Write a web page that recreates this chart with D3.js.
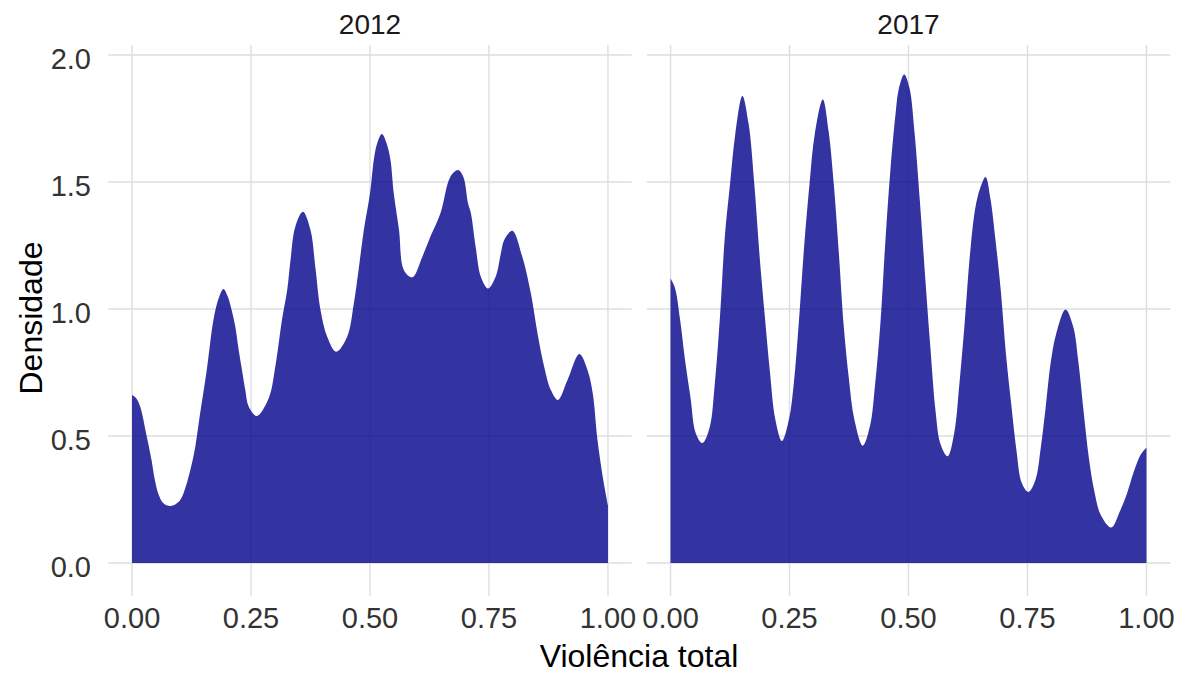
<!DOCTYPE html>
<html>
<head>
<meta charset="utf-8">
<script src="https://cdn.jsdelivr.net/npm/d3@7"></script>
<style>
  body { margin: 0; background: #fff; }
  text { font-family: "Liberation Sans", Arial, sans-serif; }
</style>
</head>
<body>
<div id="chart"></div>
<script>
// facets
var years = ["2012", "2017"];

// density curves (x = Violência total, y = Densidade)
var x2012 = [0.000, 0.009, 0.017, 0.031, 0.041, 0.048, 0.055, 0.066, 0.081, 0.098, 0.108, 0.129, 0.143, 0.157, 0.171, 0.182,
  0.192, 0.201, 0.210, 0.217, 0.224, 0.231, 0.238, 0.245, 0.262, 0.287, 0.301, 0.315, 0.326, 0.333, 0.343, 0.359,
  0.375, 0.385, 0.396, 0.410, 0.429, 0.452, 0.466, 0.476, 0.487, 0.500, 0.508, 0.515, 0.525, 0.535, 0.543, 0.550,
  0.561, 0.571, 0.589, 0.610, 0.627, 0.648, 0.669, 0.685, 0.696, 0.706, 0.712, 0.722, 0.733, 0.748, 0.764, 0.775,
  0.782, 0.799, 0.820, 0.838, 0.852, 0.866, 0.880, 0.895, 0.915, 0.940, 0.957, 0.968, 0.978, 0.989, 1.000];
var y2012 = [0.661, 0.648, 0.616, 0.497, 0.405, 0.327, 0.274, 0.235, 0.224, 0.241, 0.274, 0.419, 0.589, 0.760, 0.957, 1.042,
  1.079, 1.050, 0.990, 0.930, 0.840, 0.760, 0.681, 0.616, 0.579, 0.648, 0.773, 0.957, 1.075, 1.193, 1.324, 1.383,
  1.311, 1.167, 0.996, 0.891, 0.832, 0.891, 1.022, 1.154, 1.311, 1.455, 1.587, 1.652, 1.689, 1.652, 1.587, 1.455,
  1.311, 1.154, 1.125, 1.206, 1.285, 1.377, 1.521, 1.547, 1.521, 1.416, 1.377, 1.245, 1.127, 1.081, 1.127, 1.219,
  1.272, 1.308, 1.206, 1.062, 0.904, 0.773, 0.681, 0.642, 0.720, 0.823, 0.760, 0.668, 0.484, 0.340, 0.228];

var x2017 = [0.000, 0.009, 0.020, 0.031, 0.042, 0.053, 0.067, 0.082, 0.093, 0.104, 0.114, 0.125, 0.136, 0.151, 0.164, 0.176,
  0.187, 0.198, 0.209, 0.220, 0.234, 0.249, 0.259, 0.270, 0.281, 0.292, 0.303, 0.320, 0.332, 0.343, 0.354, 0.364,
  0.375, 0.386, 0.404, 0.419, 0.430, 0.441, 0.451, 0.462, 0.473, 0.480, 0.491, 0.502, 0.513, 0.524, 0.535, 0.546,
  0.557, 0.567, 0.582, 0.596, 0.607, 0.618, 0.629, 0.640, 0.651, 0.662, 0.672, 0.683, 0.694, 0.705, 0.716, 0.727,
  0.738, 0.752, 0.767, 0.778, 0.788, 0.799, 0.810, 0.830, 0.846, 0.857, 0.868, 0.879, 0.890, 0.904, 0.926, 0.944,
  0.959, 0.973, 0.988, 1.000];
var y2017 = [1.120, 1.085, 0.959, 0.791, 0.651, 0.511, 0.472, 0.532, 0.707, 0.973, 1.282, 1.492, 1.688, 1.839, 1.730, 1.492,
  1.211, 0.973, 0.749, 0.567, 0.480, 0.567, 0.707, 0.959, 1.254, 1.492, 1.688, 1.825, 1.702, 1.492, 1.211, 0.931,
  0.721, 0.567, 0.462, 0.539, 0.707, 0.945, 1.254, 1.548, 1.772, 1.870, 1.923, 1.870, 1.688, 1.422, 1.127, 0.847,
  0.595, 0.469, 0.420, 0.511, 0.707, 0.945, 1.211, 1.394, 1.478, 1.520, 1.436, 1.268, 1.071, 0.819, 0.623, 0.441,
  0.315, 0.280, 0.329, 0.455, 0.609, 0.791, 0.900, 0.998, 0.931, 0.791, 0.595, 0.413, 0.287, 0.189, 0.140, 0.203,
  0.273, 0.357, 0.427, 0.455];

var xTicks = [0, 0.25, 0.5, 0.75, 1];
var xTickLabels = ["0.00", "0.25", "0.50", "0.75", "1.00"];
var yTicks = [0, 0.5, 1, 1.5, 2];
var yTickLabels = ["0.0", "0.5", "1.0", "1.5", "2.0"];

var curves = [
  { year: years[0], x: x2012, y: y2012 },
  { year: years[1], x: x2017, y: y2017 }
];

var width = 1186, height = 674;
var panelTop = 45, panelBottom = 596;
var panelLeft = [108.25, 646.75];
var panelW = 523.5;

var svg = d3.select("#chart").append("svg")
    .attr("width", width)
    .attr("height", height);

// shared y scale
var y = d3.scaleLinear()
    .domain([0, 2])
    .range([563, 55]);

curves.forEach(function(c, i) {
  var x = d3.scaleLinear()
      .domain([-0.05, 1.05])
      .range([panelLeft[i], panelLeft[i] + panelW]);

  var g = svg.append("g").attr("class", "panel");

  // grid
  g.selectAll(".vgrid")
    .data(xTicks)
    .enter().append("line")
      .attr("x1", function(d) { return x(d); })
      .attr("x2", function(d) { return x(d); })
      .attr("y1", panelTop)
      .attr("y2", panelBottom)
      .attr("stroke", "#dedede")
      .attr("stroke-width", 1.4);

  g.selectAll(".hgrid")
    .data(yTicks)
    .enter().append("line")
      .attr("x1", panelLeft[i])
      .attr("x2", panelLeft[i] + panelW)
      .attr("y1", function(d) { return y(d); })
      .attr("y2", function(d) { return y(d); })
      .attr("stroke", "#dedede")
      .attr("stroke-width", 1.4);

  // density area
  var pts = c.x.map(function(v, k) { return [v, c.y[k]]; });
  var area = d3.area()
      .x(function(d) { return x(d[0]); })
      .y0(y(0))
      .y1(function(d) { return y(d[1]); })
      .curve(d3.curveCatmullRom.alpha(0.5));

  g.append("path")
    .datum(pts)
    .attr("d", area)
    .attr("fill", "darkblue")
    .attr("fill-opacity", 0.8);

  // x tick labels
  g.selectAll(".xlab")
    .data(xTicks)
    .enter().append("text")
      .attr("x", function(d) { return x(d); })
      .attr("y", 628)
      .attr("text-anchor", "middle")
      .attr("font-size", 29)
      .attr("fill", "#333")
      .text(function(d, k) { return xTickLabels[k]; });

  // strip title
  g.append("text")
    .attr("x", x(0.5))
    .attr("y", 34)
    .attr("text-anchor", "middle")
    .attr("font-size", 28)
    .attr("fill", "#1a1a1a")
    .text(c.year);
});

// y tick labels (left panel only)
svg.selectAll(".ylab")
  .data(yTicks)
  .enter().append("text")
    .attr("x", 91)
    .attr("y", function(d) { return y(d) + 14; })
    .attr("text-anchor", "end")
    .attr("font-size", 29)
    .attr("fill", "#333")
    .text(function(d, k) { return yTickLabels[k]; });

// axis titles
svg.append("text")
  .attr("x", 639)
  .attr("y", 667)
  .attr("text-anchor", "middle")
  .attr("font-size", 32)
  .attr("fill", "#000")
  .text("Violência total");

svg.append("text")
  .attr("transform", "translate(42,318) rotate(-90)")
  .attr("text-anchor", "middle")
  .attr("font-size", 32)
  .attr("fill", "#000")
  .text("Densidade");
</script>
</body>
</html>
